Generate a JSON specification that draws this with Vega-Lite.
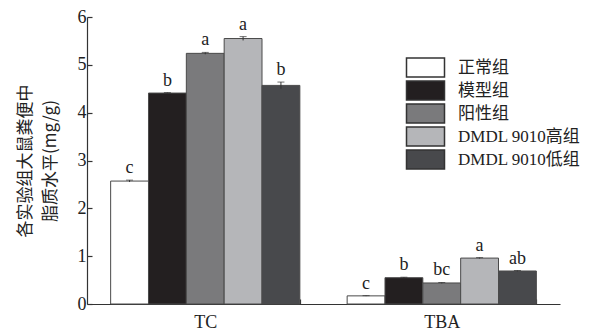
{
  "$schema": "https://vega.github.io/schema/vega-lite/v6.json",
  "width": 473,
  "height": 287,
  "autosize": "none",
  "padding": {"left": 87, "top": 17, "right": 52, "bottom": 26},
  "background": "white",
  "config": {"view": {"stroke": null}},
  "data": {"values": [
    {"indicator": "TC", "group": "正常组", "value": 2.57, "lo": 2.55, "hi": 2.59, "sig": "c"},
    {"indicator": "TC", "group": "模型组", "value": 4.41, "lo": 4.40, "hi": 4.42, "sig": "b"},
    {"indicator": "TC", "group": "阳性组", "value": 5.24, "lo": 5.22, "hi": 5.26, "sig": "a"},
    {"indicator": "TC", "group": "DMDL 9010高组", "value": 5.55, "lo": 5.51, "hi": 5.59, "sig": "a"},
    {"indicator": "TC", "group": "DMDL 9010低组", "value": 4.57, "lo": 4.50, "hi": 4.64, "sig": "b"},
    {"indicator": "TBA", "group": "正常组", "value": 0.17, "lo": 0.165, "hi": 0.175, "sig": "c"},
    {"indicator": "TBA", "group": "模型组", "value": 0.55, "lo": 0.54, "hi": 0.56, "sig": "b"},
    {"indicator": "TBA", "group": "阳性组", "value": 0.44, "lo": 0.43, "hi": 0.45, "sig": "bc"},
    {"indicator": "TBA", "group": "DMDL 9010高组", "value": 0.96, "lo": 0.95, "hi": 0.97, "sig": "a"},
    {"indicator": "TBA", "group": "DMDL 9010低组", "value": 0.69, "lo": 0.68, "hi": 0.70, "sig": "ab"}
  ]},
  "encoding": {
    "x": {
      "field": "indicator", "type": "nominal", "sort": ["TC", "TBA"],
      "scale": {"paddingInner": 0.2, "paddingOuter": 0.1},
      "axis": {
        "title": null, "labelAngle": 0, "labelFont": "Liberation Serif", "labelFontSize": 18,
        "labelColor": "#222", "labelPadding": 14, "domainColor": "#333", "domainWidth": 1.2,
        "tickColor": "#333", "tickSize": -5, "tickBand": "extent", "tickWidth": 1.2
      }
    },
    "xOffset": {
      "field": "group", "type": "nominal",
      "sort": ["正常组", "模型组", "阳性组", "DMDL 9010高组", "DMDL 9010低组"],
      "scale": {"paddingInner": 0, "paddingOuter": 0}
    }
  },
  "layer": [
    {
      "mark": {"type": "bar", "stroke": "#4a4a4a", "strokeWidth": 1},
      "encoding": {
        "y": {
          "field": "value", "type": "quantitative",
          "scale": {"domain": [0, 6], "nice": false},
          "axis": {
            "title": ["各实验组大鼠粪便中", "脂质水平(mg/g)"],
            "titleFont": "Noto Sans CJK SC", "titleFontSize": 17, "titleFontWeight": "normal",
            "titleColor": "#222", "titleLineHeight": 25, "titlePadding": 18,
            "values": [0, 0.5, 1, 1.5, 2, 2.5, 3, 3.5, 4, 4.5, 5, 5.5, 6],
            "labelExpr": "datum.value % 1 === 0 ? datum.label : ''",
            "labelFont": "Liberation Serif", "labelFontSize": 18, "labelColor": "#222",
            "labelPadding": 6, "grid": false, "domainColor": "#333", "domainWidth": 1.2,
            "tickColor": "#333", "tickWidth": 1.2, "tickSize": -5
          }
        },
        "fill": {
          "field": "group", "type": "nominal",
          "sort": ["正常组", "模型组", "阳性组", "DMDL 9010高组", "DMDL 9010低组"],
          "scale": {"range": ["#ffffff", "#231f20", "#7a7a7c", "#b5b6b9", "#48494c"]},
          "legend": {
            "title": null, "orient": "none", "legendX": 328, "legendY": 40,
            "symbolType": "M-2,-1H2V1H-2Z", "symbolSize": 361,
            "symbolStrokeColor": "#333", "symbolStrokeWidth": 1.5,
            "labelFont": "Liberation Serif, Noto Sans CJK SC", "labelFontSize": 17,
            "labelColor": "#222", "labelOffset": 22, "rowPadding": -12
          }
        }
      }
    },
    {
      "mark": {"type": "rule", "stroke": "#333", "strokeWidth": 1},
      "encoding": {
        "y": {"field": "lo", "type": "quantitative"},
        "y2": {"field": "hi"}
      }
    },
    {
      "mark": {"type": "tick", "color": "#333", "thickness": 1, "size": 7, "orient": "horizontal"},
      "encoding": {
        "y": {"field": "hi", "type": "quantitative"}
      }
    },
    {
      "mark": {"type": "text", "font": "Liberation Serif", "fontSize": 18, "color": "#222", "baseline": "bottom", "dy": -3},
      "encoding": {
        "y": {"field": "hi", "type": "quantitative"},
        "text": {"field": "sig"}
      }
    }
  ]
}
